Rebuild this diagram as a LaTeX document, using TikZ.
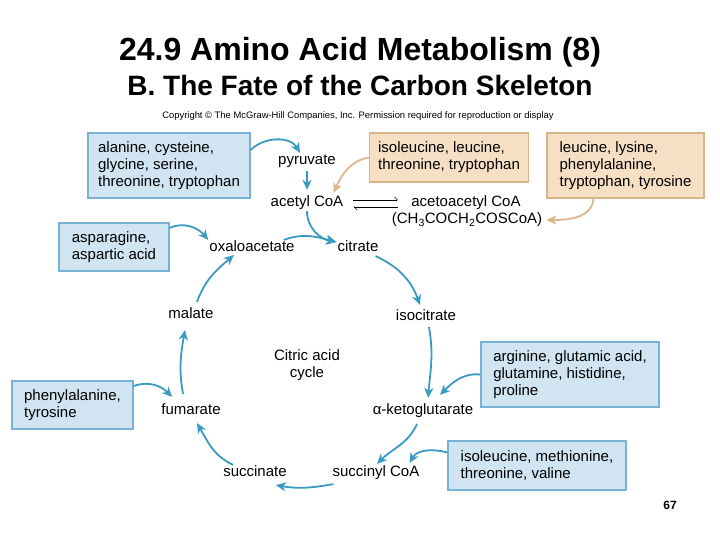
\documentclass[tikz,border=0pt]{standalone}
\usepackage{fontspec}
\setmainfont{Liberation Sans}
\usepackage{xcolor}
\usetikzlibrary{arrows.meta}
\definecolor{kasten-blau}{HTML}{D0E4F1}
\definecolor{rand-blau}{HTML}{78B2D4}
\definecolor{pfeil-blau}{HTML}{3A9AC2}
\definecolor{kasten-beige}{HTML}{F6DFC3}
\definecolor{rand-beige}{HTML}{D8B48A}
\definecolor{pfeil-beige}{HTML}{DBB68C}

\tikzset{
  stoff/.style={font=\fontsize{15}{17}\selectfont, inner sep=1pt, text height=10.7pt, text depth=3.1pt},
  kasten/.style={font=\fontsize{15}{17}\selectfont, align=left, inner sep=0pt, line width=1.3pt},
  blaukasten/.style={kasten, draw=rand-blau, fill=kasten-blau},
  beigekasten/.style={kasten, draw=rand-beige, fill=kasten-beige},
  blaupfeil/.style={draw=pfeil-blau, line width=1.8pt, -{Stealth[length=10pt,width=9pt,inset=3pt]}},
  beigepfeil/.style={blaupfeil, draw=pfeil-beige},
  harpune/.style={line width=0.6pt, -{Straight Barb[left,length=3pt,width=6pt]}}
}

\begin{document}
\begin{tikzpicture}[x=1pt, y=1pt]
\useasboundingbox (0,0) rectangle (720,540);

% Ueberschrift
\node[font=\fontsize{32}{32}\selectfont\bfseries, anchor=base] (titel) at (360,479) {24.9 Amino Acid Metabolism (8)};
\node[font=\fontsize{28}{28}\selectfont\bfseries, anchor=base] (untertitel) at (360,444) {B. The Fate of the Carbon Skeleton};
\node[font=\fontsize{9.4}{9.4}\selectfont] (copy) at (358,424) {Copyright © The McGraw-Hill Companies, Inc. Permission required for reproduction or display};
\node[font=\fontsize{12}{12}\selectfont\bfseries] (seite) at (670,35) {67};

% Zwischenprodukte
\node[stoff] (pyr) at (307,379) {pyruvate};
\node[stoff] (acoa) at (307,337) {acetyl CoA};
\node[stoff] (aaco) at (466,337) {acetoacetyl CoA};
\node[stoff] (aacof) at (467,320) {(CH\textsubscript{3}COCH\textsubscript{2}COSCoA)};
\node[stoff] (oaa) at (252,292) {oxaloacetate};
\node[stoff] (cit) at (358,292) {citrate};
\node[stoff] (icit) at (426,223) {isocitrate};
\node[stoff] (mal) at (191,225) {malate};
\node[stoff] (akg) at (423,129) {α-ketoglutarate};
\node[stoff] (fum) at (191,129) {fumarate};
\node[stoff] (sca) at (376,67) {succinyl CoA};
\node[stoff] (suc) at (255,67) {succinate};
\node[font=\fontsize{15}{17}\selectfont, align=center] (zyklus) at (307,174.5) {Citric acid\\cycle};

% Aminosaeuren
\node[blaukasten, minimum width=162pt, minimum height=65pt] (b1) at (169,374.5) {alanine, cysteine,\\glycine, serine,\\threonine, tryptophan};
\node[beigekasten, minimum width=159pt, minimum height=49pt] (b2) at (449,382.5) {isoleucine, leucine,\\threonine, tryptophan};
\node[beigekasten, minimum width=157pt, minimum height=65pt] (b3) at (625.5,374.5) {leucine, lysine,\\phenylalanine,\\tryptophan, tyrosine};
\node[blaukasten, minimum width=110pt, minimum height=48pt] (b4) at (114,293) {asparagine,\\aspartic acid};
\node[blaukasten, minimum width=178pt, minimum height=65pt] (b5) at (570,165.5) {arginine, glutamic acid,\\glutamine, histidine,\\proline};
\node[blaukasten, minimum width=121pt, minimum height=48pt] (b6) at (72.5,135) {phenylalanine,\\tyrosine};
\node[blaukasten, minimum width=178pt, minimum height=49pt] (b7) at (537,74.5) {isoleucine, methionine,\\threonine, valine};

% Pfeile
\draw[blaupfeil] ([yshift=15.5pt]b1.east) to[out=45,in=120] ([xshift=-7pt]pyr.north);
\draw[blaupfeil, shorten <=2pt, shorten >=5pt] (pyr) -- (acoa);
\draw[beigepfeil] (b2.west) to[out=190,in=65] ([xshift=-11pt,yshift=2pt]acoa.north east);
\draw[beigepfeil] ([xshift=-32pt]b3.south) to[out=-95,in=0] ([xshift=3pt]aacof.east);
\draw[harpune, shorten <=9pt, shorten >=12pt] ([yshift=3pt]acoa.east) -- ([yshift=3pt]aaco.west);
\draw[harpune, shorten <=12pt, shorten >=9pt] ([yshift=-4pt]aaco.west) -- ([yshift=-4pt]acoa.east);
\draw[blaupfeil] (acoa.south) to[out=-90,in=170] ([yshift=6pt]cit.west);
\draw[blaupfeil] ([xshift=-12pt]oaa.north east) to[out=20,in=165] ([yshift=6pt]cit.west);
\draw[blaupfeil] ([xshift=-4pt]cit.south east) to[out=-25,in=110] ([xshift=-6pt,yshift=4pt]icit.north);
\draw[blaupfeil] ([xshift=3pt,yshift=-2pt]icit.south) to[out=-80,in=85] ([xshift=5pt,yshift=5pt]akg.north);
\draw[blaupfeil] (b5.west) to[out=175,in=45] ([xshift=17pt,yshift=8pt]akg.north);
\draw[blaupfeil] ([xshift=-6pt,yshift=-5pt]akg.south) to[out=-115,in=45] ([xshift=1pt,yshift=1pt]sca.north);
\draw[blaupfeil] ([yshift=13pt]b7.west) to[out=165,in=60] ([xshift=-11pt,yshift=2pt]sca.north east);
\draw[blaupfeil] ([xshift=2pt,yshift=-3pt]sca.south west) to[out=190,in=-10] ([xshift=-12pt,yshift=-4pt]suc.south east);
\draw[blaupfeil] ([xshift=11pt]suc.north west) to[out=155,in=-60] ([xshift=6pt,yshift=-4pt]fum.south);
\draw[blaupfeil] ([xshift=-8pt,yshift=9pt]fum.north) to[out=100,in=-100] ([xshift=-6pt,yshift=-7pt]mal.south);
\draw[blaupfeil] ([yshift=19pt]b6.east) to[out=20,in=135] ([xshift=12pt,yshift=6pt]fum.north west);
\draw[blaupfeil] ([xshift=6pt,yshift=5pt]mal.north) to[out=70,in=-140] ([xshift=-18pt,yshift=1pt]oaa.south);
\draw[blaupfeil] ([yshift=19pt]b4.east) to[out=25,in=130] (oaa.north west);
\end{tikzpicture}
\end{document}
